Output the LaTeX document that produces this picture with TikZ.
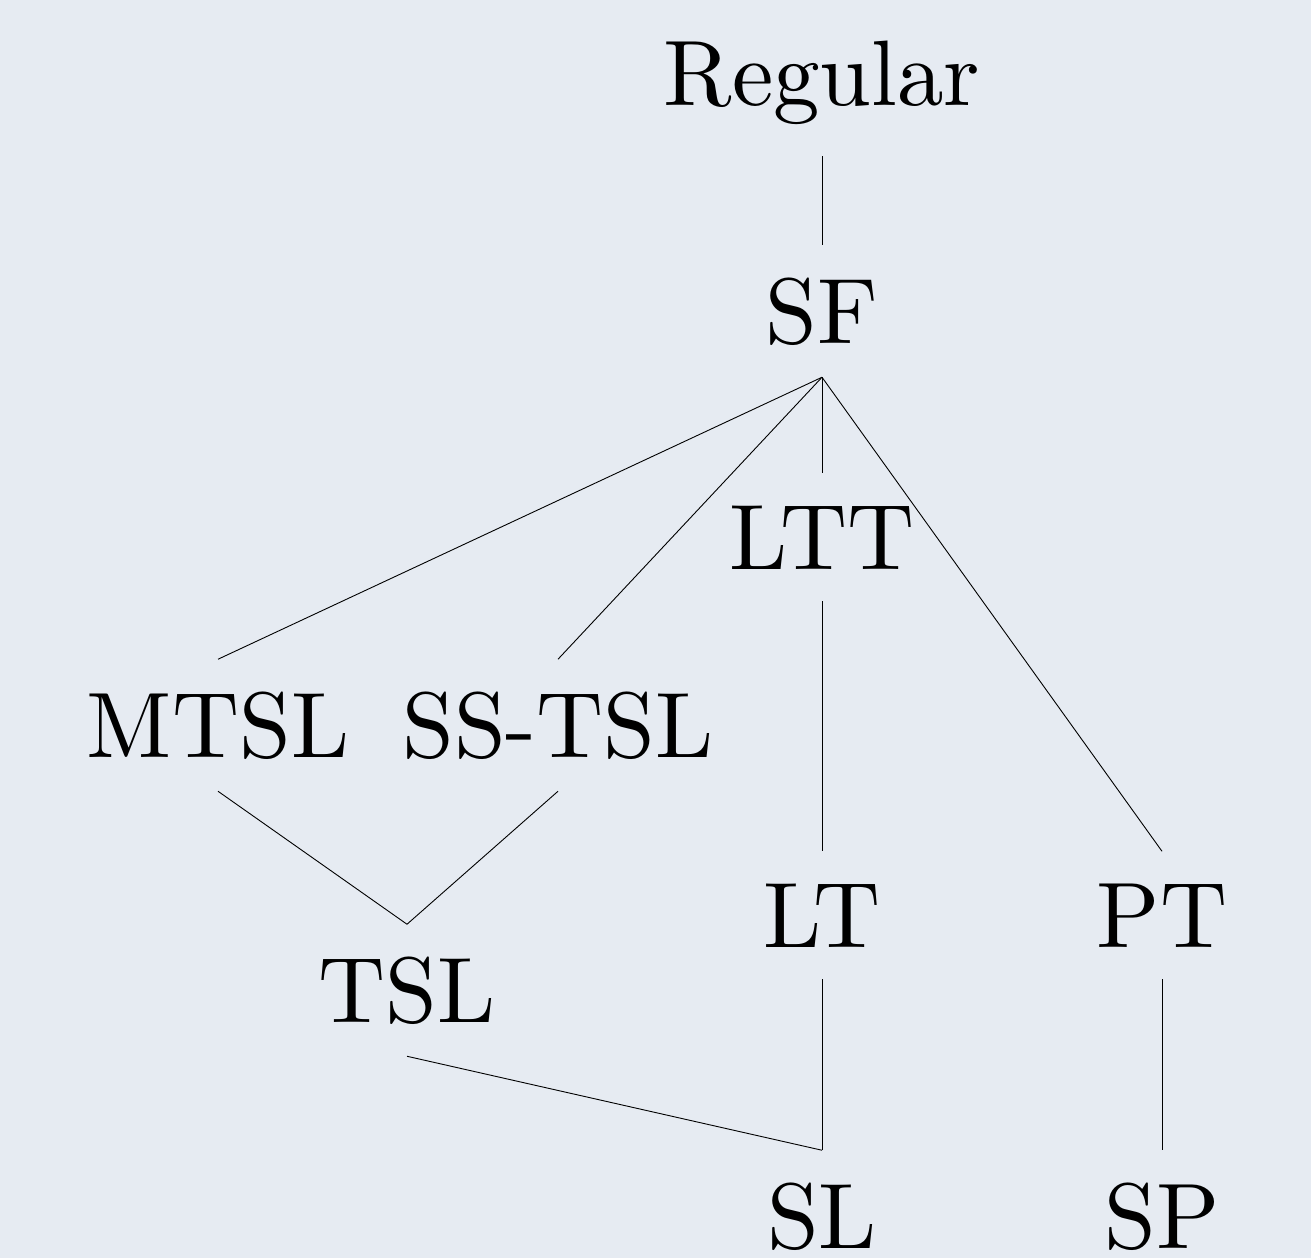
\documentclass[tikz,border=0pt]{standalone}
\definecolor{paper}{RGB}{230,235,242}
% Latin Modern Roman 10 design size, scaled up for the labels
\font\clsfont="[lmroman10-regular.otf]" at 93pt
\begin{document}
\begin{tikzpicture}[x=1pt,y=-1pt,
  cls/.style={font=\clsfont, inner sep=32pt, anchor=base},
  link/.style={line width=0.9pt, black}]
  % canvas
  \fill[paper] (0,0) rectangle (1311,1258);
  \useasboundingbox (0,0) rectangle (1311,1258);
  % language classes
  \node[cls] (reg)   at (822,105)  {Regular};
  \node[cls] (sf)    at (822,343)  {SF};
  \node[cls] (ltt)   at (822,569)  {LTT};
  \node[cls] (mtsl)  at (218,757)  {MTSL};
  \node[cls] (sstsl) at (558,757)  {SS-TSL};
  \node[cls] (lt)    at (822,947)  {LT};
  \node[cls] (pt)    at (1162,947) {PT};
  \node[cls] (tsl)   at (407,1022) {TSL};
  \node[cls] (sl)    at (822,1248) {SL};
  \node[cls] (sp)    at (1162,1248){SP};
  % inclusions
  \draw[link] (reg.south)   -- (sf.north);
  \draw[link] (sf.south)    -- (mtsl.north);
  \draw[link] (sf.south)    -- (sstsl.north);
  \draw[link] (sf.south)    -- (ltt.north);
  \draw[link] (sf.south)    -- (pt.north);
  \draw[link] (ltt.south)   -- (lt.north);
  \draw[link] (mtsl.south)  -- (tsl.north);
  \draw[link] (sstsl.south) -- (tsl.north);
  \draw[link] (tsl.south)   -- (sl.north);
  \draw[link] (lt.south)    -- (sl.north);
  \draw[link] (pt.south)    -- (sp.north);
\end{tikzpicture}
\end{document}
